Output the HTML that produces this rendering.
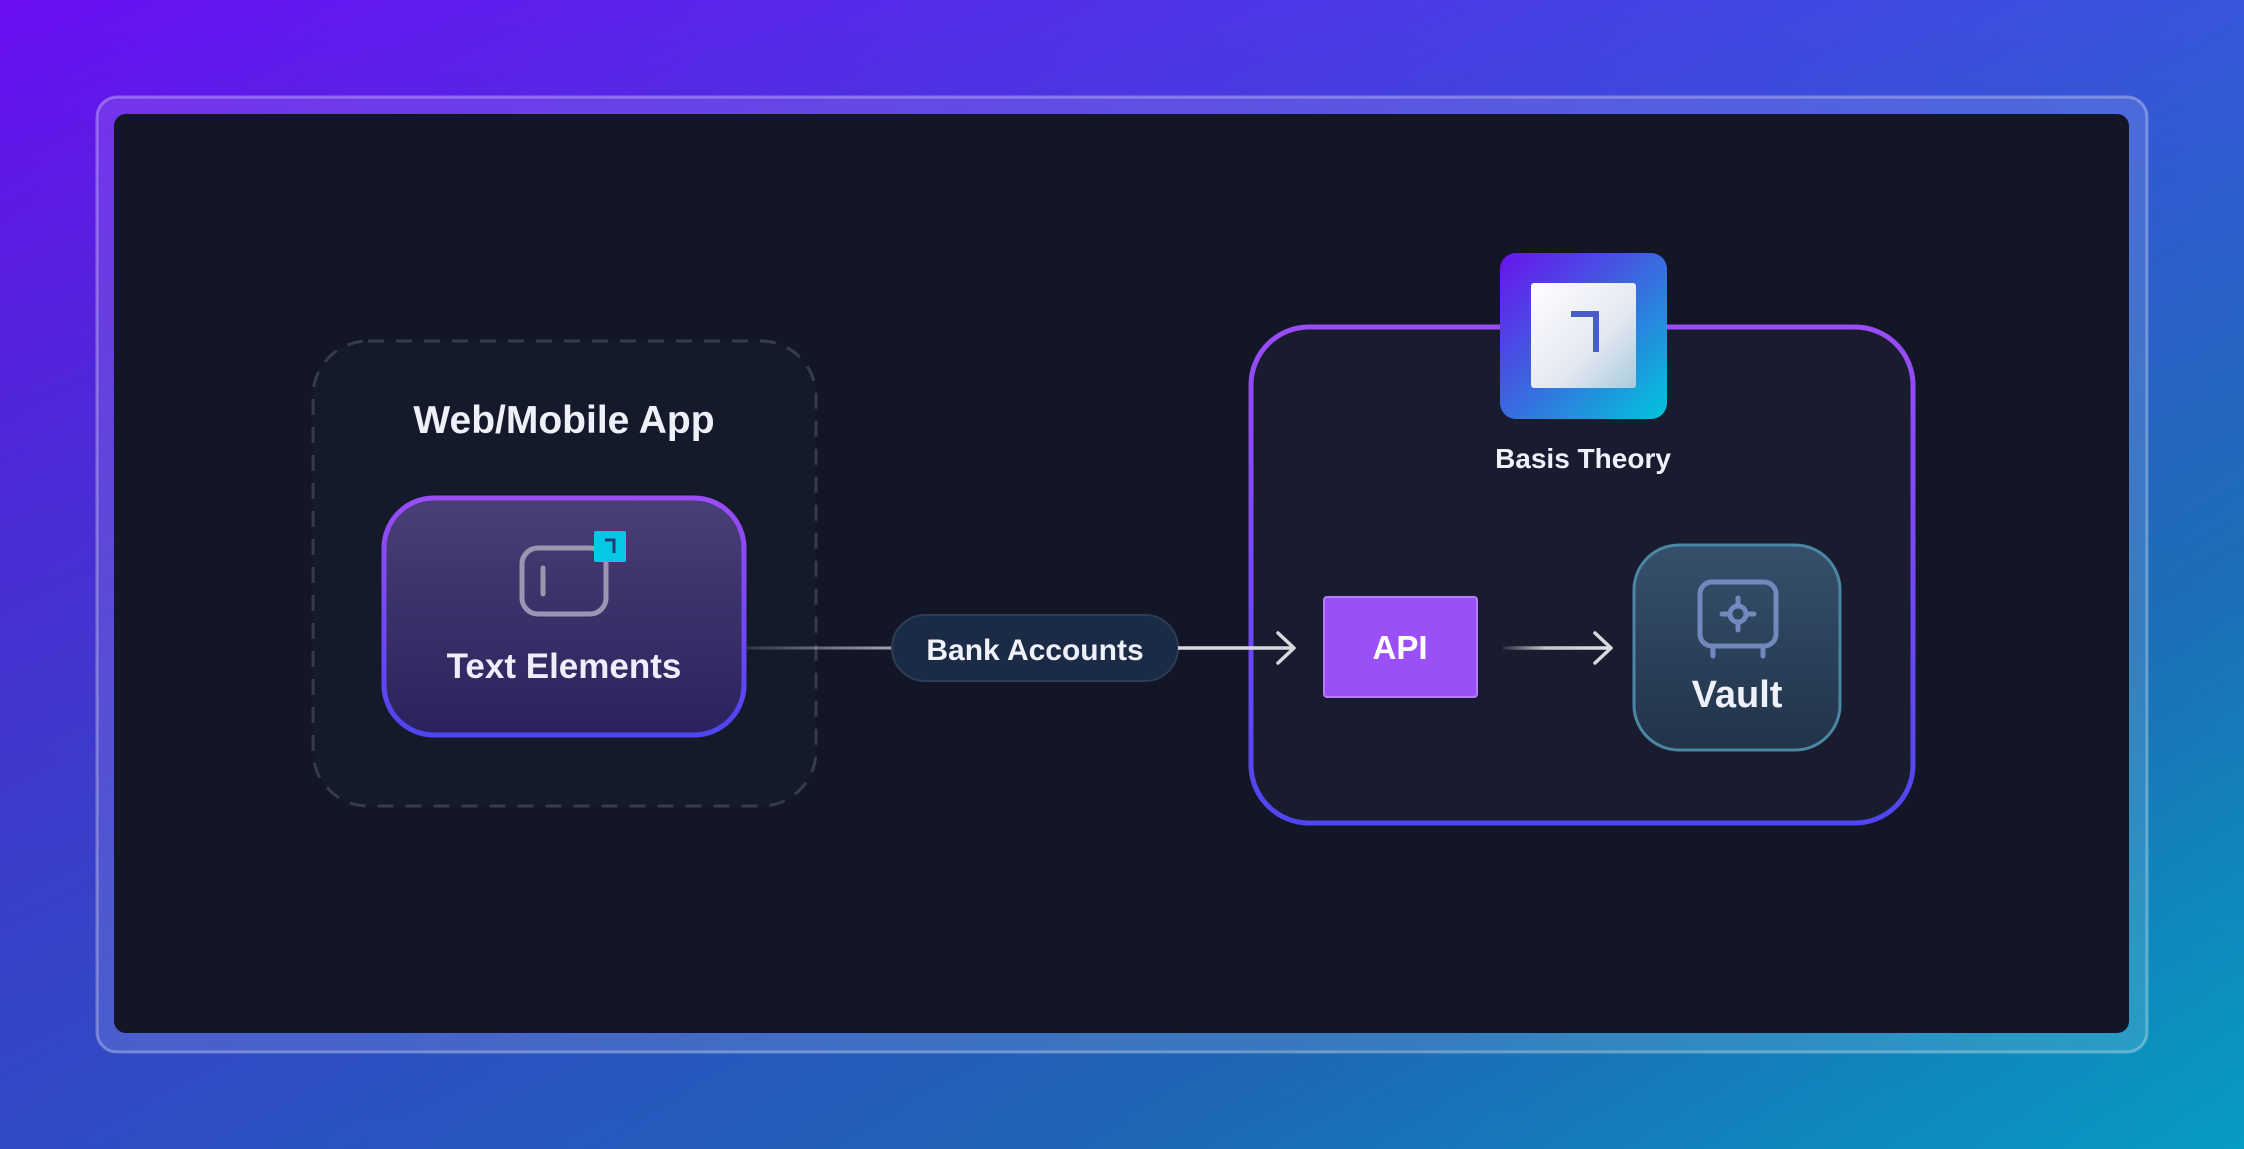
<!DOCTYPE html>
<html><head><meta charset="utf-8"><style>
html,body{margin:0;padding:0;width:2244px;height:1149px;overflow:hidden}
body{font-family:"Liberation Sans",sans-serif}
</style></head><body>
<svg width="2244" height="1149" viewBox="0 0 2244 1149" xmlns="http://www.w3.org/2000/svg">
<defs>
<linearGradient id="bg" x1="0" y1="0" x2="1" y2="1">
<stop offset="0" stop-color="#6a0ef2"/>
<stop offset="0.45" stop-color="#3c4ee0"/>
<stop offset="0.75" stop-color="#1f7ac8"/>
<stop offset="1" stop-color="#00c2d8"/>
</linearGradient>
<linearGradient id="bg2" x1="0" y1="0" x2="0" y2="1">
<stop offset="0" stop-color="#000" stop-opacity="0"/>
<stop offset="1" stop-color="#1a2a80" stop-opacity="0.25"/>
</linearGradient>
<linearGradient id="pv" x1="0" y1="0" x2="0" y2="1">
<stop offset="0" stop-color="#9a4cf7"/>
<stop offset="1" stop-color="#4f45f2"/>
</linearGradient>
<linearGradient id="te" x1="0" y1="0" x2="0" y2="1">
<stop offset="0" stop-color="#4a3f76"/>
<stop offset="1" stop-color="#2a225c"/>
</linearGradient>
<linearGradient id="va" x1="0" y1="0" x2="0" y2="1">
<stop offset="0" stop-color="#36506c"/>
<stop offset="1" stop-color="#213349"/>
</linearGradient>
<linearGradient id="lg" x1="0" y1="0" x2="1" y2="1">
<stop offset="0" stop-color="#6a12ee"/>
<stop offset="0.5" stop-color="#3a6ae0"/>
<stop offset="1" stop-color="#00c6dc"/>
</linearGradient>
<linearGradient id="wh" x1="0" y1="0" x2="1" y2="1">
<stop offset="0" stop-color="#ffffff"/>
<stop offset="0.6" stop-color="#e4e8f2"/>
<stop offset="1" stop-color="#a8cbdc"/>
</linearGradient>
<linearGradient id="ln1" gradientUnits="userSpaceOnUse" x1="747" y1="0" x2="893" y2="0">
<stop offset="0" stop-color="#c8c8d0" stop-opacity="0.15"/>
<stop offset="1" stop-color="#c8c8d0" stop-opacity="0.8"/>
</linearGradient>
<linearGradient id="ln2" gradientUnits="userSpaceOnUse" x1="1503" y1="0" x2="1610" y2="0">
<stop offset="0" stop-color="#d8d8e0" stop-opacity="0.1"/>
<stop offset="0.4" stop-color="#d8d8e0" stop-opacity="0.9"/>
<stop offset="1" stop-color="#e0e0e8"/>
</linearGradient>
</defs>
<rect width="2244" height="1149" fill="url(#bg)"/>
<rect width="2244" height="1149" fill="url(#bg2)"/>
<rect x="97" y="97" width="2050" height="955" rx="20" fill="#ffffff" fill-opacity="0.12" stroke="#ffffff" stroke-opacity="0.3" stroke-width="3"/>
<rect x="114" y="114" width="2015" height="919" rx="12" fill="#121627"/>

<rect x="313" y="341" width="503" height="465" rx="55" fill="#151a2b" stroke="#353a4c" stroke-width="3" stroke-dasharray="16 12"/>
<text x="564" y="433" text-anchor="middle" font-size="39" font-weight="600" fill="#eef0fa">Web/Mobile App</text>

<rect x="384" y="498" width="360" height="237" rx="50" fill="url(#te)" stroke="url(#pv)" stroke-width="5"/>
<rect x="522" y="548" width="84" height="66" rx="16" fill="none" stroke="#9a96b0" stroke-width="5"/>
<line x1="543" y1="568" x2="543" y2="594" stroke="#9a96b0" stroke-width="5" stroke-linecap="round"/>
<rect x="594" y="531" width="32" height="31" rx="2" fill="#06c8e4"/>
<path d="M605 540 H614 V553" fill="none" stroke="#233a70" stroke-width="3"/>
<text x="564" y="678" text-anchor="middle" font-size="35" font-weight="600" fill="#eeeefa">Text Elements</text>

<rect x="1251" y="327" width="662" height="496" rx="58" fill="#191c2e" stroke="url(#pv)" stroke-width="5"/>
<rect x="1500" y="253" width="167" height="166" rx="16" fill="url(#lg)"/>
<rect x="1531" y="283" width="105" height="105" rx="3" fill="url(#wh)"/>
<path d="M1571 314 H1596 V352" fill="none" stroke="#4a5cc8" stroke-width="6"/>
<text x="1583" y="468" text-anchor="middle" font-size="28" font-weight="600" fill="#eef0fa">Basis Theory</text>

<rect x="1324" y="597" width="153" height="100" rx="3" fill="#9b4ff7" stroke="#b57dfb" stroke-width="2"/>
<text x="1400" y="659" text-anchor="middle" font-size="33" font-weight="600" fill="#ffffff">API</text>

<!-- connectors -->
<line x1="747" y1="648" x2="893" y2="648" stroke="url(#ln1)" stroke-width="3"/>
<rect x="892" y="615" width="286" height="66" rx="33" fill="#1c2b45" stroke="#2c3d58" stroke-width="2"/>
<text x="1035" y="660" text-anchor="middle" font-size="30" font-weight="600" fill="#eef0fa">Bank Accounts</text>
<line x1="1178" y1="648" x2="1293" y2="648" stroke="#d8d8e0" stroke-width="3.5"/>
<path d="M1278 633 L1294 648 L1278 663" fill="none" stroke="#d8d8e0" stroke-width="3.5" stroke-linecap="round" stroke-linejoin="round"/>
<line x1="1503" y1="648" x2="1610" y2="648" stroke="url(#ln2)" stroke-width="3.5"/>
<path d="M1595 633 L1611 648 L1595 663" fill="none" stroke="#d8d8e0" stroke-width="3.5" stroke-linecap="round" stroke-linejoin="round"/>

<rect x="1634" y="545" width="206" height="205" rx="45" fill="url(#va)" stroke="#4b86a4" stroke-width="3"/>
<rect x="1700" y="582" width="76" height="64" rx="12" fill="none" stroke="#7388bd" stroke-width="5"/>
<line x1="1713" y1="646" x2="1713" y2="656" stroke="#7388bd" stroke-width="5" stroke-linecap="round"/>
<line x1="1763" y1="646" x2="1763" y2="656" stroke="#7388bd" stroke-width="5" stroke-linecap="round"/>
<circle cx="1738" cy="614" r="8" fill="none" stroke="#7388bd" stroke-width="5"/>
<line x1="1738" y1="598" x2="1738" y2="604" stroke="#7388bd" stroke-width="5" stroke-linecap="round"/>
<line x1="1738" y1="624" x2="1738" y2="630" stroke="#7388bd" stroke-width="5" stroke-linecap="round"/>
<line x1="1722" y1="614" x2="1728" y2="614" stroke="#7388bd" stroke-width="5" stroke-linecap="round"/>
<line x1="1748" y1="614" x2="1754" y2="614" stroke="#7388bd" stroke-width="5" stroke-linecap="round"/>
<text x="1737" y="707" text-anchor="middle" font-size="38" font-weight="600" fill="#eef0fa">Vault</text>
</svg>
</body></html>
